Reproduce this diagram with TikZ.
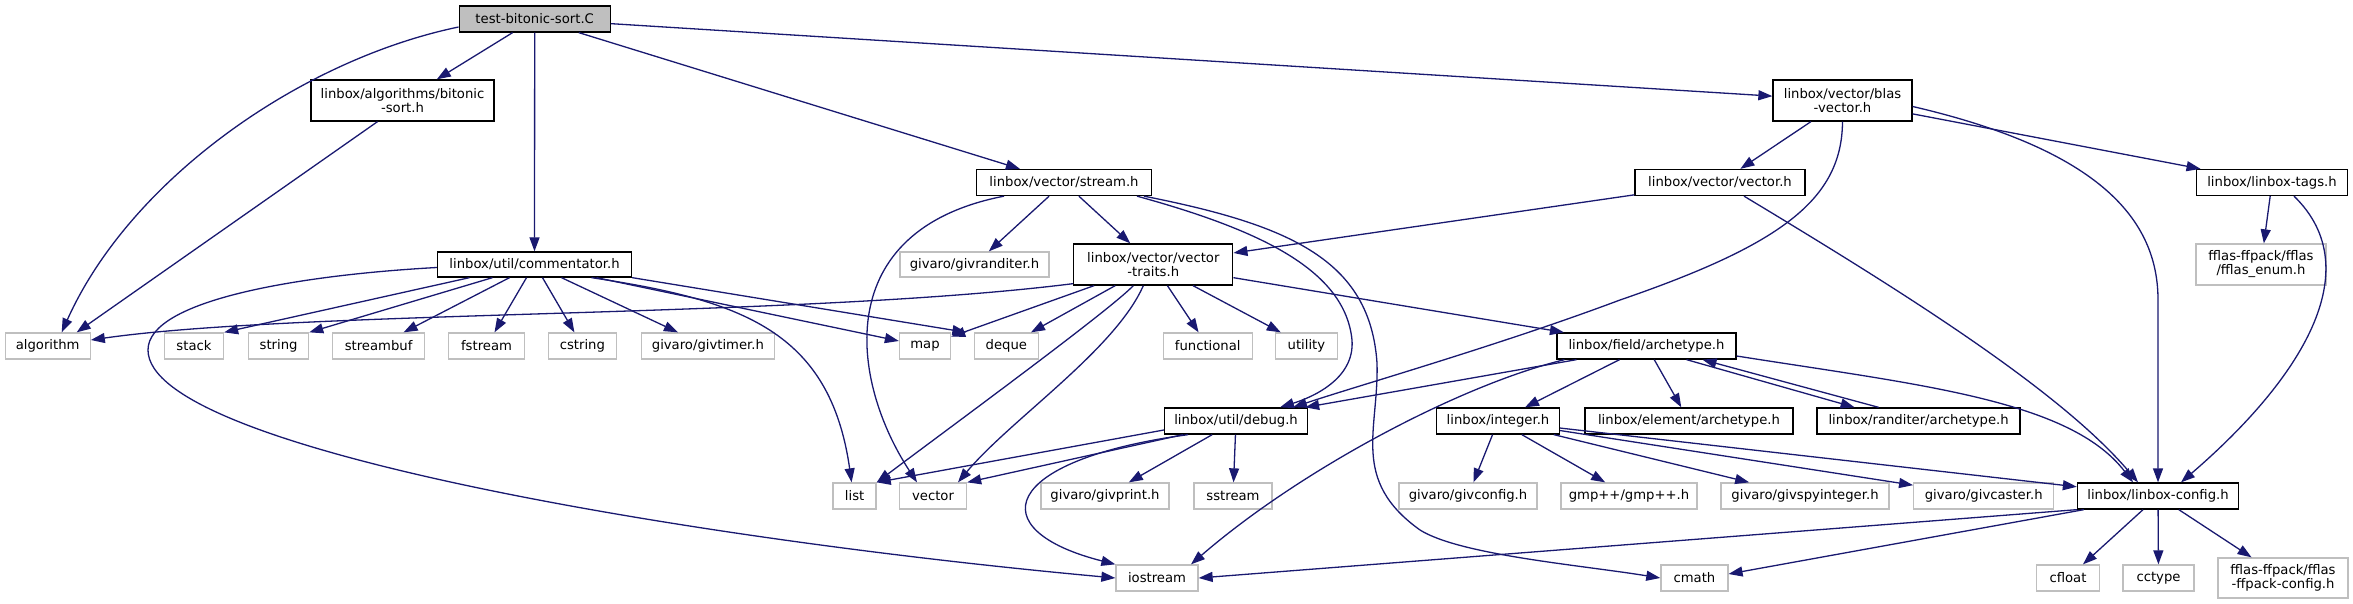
\documentclass[tikz,border=0pt]{standalone}
\usepackage{fontspec}
\setmainfont{DejaVu Sans}
\usetikzlibrary{arrows.meta, positioning}
\definecolor{dxBlue}{HTML}{191970}
\definecolor{dxGrey}{HTML}{BFBFBF}
\tikzset{
  hdr/.style  = {draw=black, fill=white, line width=1.3pt, inner sep=0pt,
                 minimum height=26pt, align=center,
                 font=\fontsize{13.2}{14}\selectfont},
  sys/.style  = {hdr, draw=dxGrey},
  src/.style  = {hdr, fill=dxGrey},
  dep/.style  = {-{Triangle[length=14pt,width=10pt]}, dxBlue, line width=1.3pt},
}

\begin{document}
\begin{tikzpicture}[x=1pt,y=-1pt, two/.style={minimum height=41pt}]
  \useasboundingbox (0,0) rectangle (2353,604);
  % row 0-2
  \node[src, minimum width=151pt] (root) at (534.7,19) {test-bitonic-sort.C};
  \node[hdr, two, minimum width=183pt] (bitonic) at (402.5,100.5) {linbox/algorithms/bitonic\\-sort.h};
  \node[hdr, two, minimum width=139pt] (blas) at (1842.5,100.5) {linbox/vector/blas\\-vector.h};
  \node[hdr, minimum width=175pt] (stream) at (1064,182.5) {linbox/vector/stream.h};
  \node[hdr, minimum width=170pt] (vectorh) at (1720,182.5) {linbox/vector/vector.h};
  \node[hdr, minimum width=151pt] (tags) at (2272,182.5) {linbox/linbox-tags.h};
  \node[hdr, minimum width=194pt, minimum height=25pt] (comm) at (534.5,264.5) {linbox/util/commentator.h};
  \node[sys, minimum width=149pt, minimum height=25pt] (givranditer) at (974.5,264.5) {givaro/givranditer.h};
  \node[hdr, two, minimum width=159pt] (vtraits) at (1153.3,264.5) {linbox/vector/vector\\-traits.h};
  \node[sys, two, minimum width=130pt] (fflasenum) at (2261,264.5) {fflas-ffpack/fflas\\/fflas\_enum.h};
  % row 3
  \node[sys, minimum width=85pt] (algorithm) at (47.7,346) {algorithm};
  \node[sys, minimum width=59pt] (stack) at (194,346) {stack};
  \node[sys, minimum width=60pt] (string) at (278.6,346) {string};
  \node[sys, minimum width=92pt] (streambuf) at (378.6,346) {streambuf};
  \node[sys, minimum width=76pt] (fstream) at (486.5,346) {fstream};
  \node[sys, minimum width=68pt] (cstring) at (582.4,346) {cstring};
  \node[sys, minimum width=133pt] (givtimer) at (707.9,346) {givaro/givtimer.h};
  \node[sys, minimum width=51pt] (map) at (925,346) {map};
  \node[sys, minimum width=64pt] (deque) at (1006.4,346) {deque};
  \node[sys, minimum width=89pt] (functional) at (1207.7,346) {functional};
  \node[sys, minimum width=62pt] (utility) at (1306.4,346) {utility};
  \node[hdr, minimum width=179pt] (fieldarch) at (1646.5,346) {linbox/field/archetype.h};
  % row 4
  \node[hdr, minimum width=143pt] (debug) at (1236,421) {linbox/util/debug.h};
  \node[hdr, minimum width=123pt] (integer) at (1498,421) {linbox/integer.h};
  \node[hdr, minimum width=208pt] (elemarch) at (1689,421) {linbox/element/archetype.h};
  \node[hdr, minimum width=203pt] (randarch) at (1918.6,421) {linbox/randiter/archetype.h};
  % row 5
  \node[sys, minimum width=43pt] (list) at (854.6,496) {list};
  \node[sys, minimum width=67pt] (vector) at (933,496) {vector};
  \node[sys, minimum width=128pt] (givprint) at (1105,496) {givaro/givprint.h};
  \node[sys, minimum width=78pt] (sstream) at (1233,496) {sstream};
  \node[sys, minimum width=138pt] (givconfig) at (1468,496) {givaro/givconfig.h};
  \node[sys, minimum width=136pt] (gmp) at (1629,496) {gmp++/gmp++.h};
  \node[sys, minimum width=168pt] (givspy) at (1805,496) {givaro/givspyinteger.h};
  \node[sys, minimum width=140pt] (givcaster) at (1983.7,496) {givaro/givcaster.h};
  \node[hdr, minimum width=161pt] (config) at (2158,496) {linbox/linbox-config.h};
  % row 6
  \node[sys, minimum width=82pt] (iostream) at (1157,578) {iostream};
  \node[sys, minimum width=67pt] (cmath) at (1694.4,578) {cmath};
  \node[sys, minimum width=63pt] (cfloat) at (2068,578) {cfloat};
  \node[sys, minimum width=71pt] (cctype) at (2158.5,578) {cctype};
  \node[sys, two, minimum width=130pt, minimum height=40pt] (ffconfig) at (2283,578) {fflas-ffpack/fflas\\-ffpack-config.h};

  % test-bitonic-sort.C
  \draw[dep] ([yshift=-8pt]root.west) .. controls (300,60) and (130,180) .. ([xshift=14pt]algorithm.north);
  \draw[dep] (root) -- (bitonic);
  \draw[dep] (root) -- (comm);
  \draw[dep] (root) -- (stream);
  \draw[dep] (root) -- (blas);
  \draw[dep] ([xshift=-25pt]bitonic.south) -- ([xshift=29pt]algorithm.north);

  % commentator
  \draw[dep] ([yshift=-3pt]comm.west) .. controls (300,275) and (148,300) .. (148,350)
             .. controls (148,450) and (700,540) .. (iostream.west);
  \draw[dep] ([xshift=-65pt]comm.south) -- (stack.north east);
  \draw[dep] ([xshift=-42pt]comm.south) -- (string.north east);
  \draw[dep] ([xshift=-25pt]comm.south) -- ([xshift=25pt]streambuf.north);
  \draw[dep] ([xshift=-8pt]comm.south) -- ([xshift=8pt]fstream.north);
  \draw[dep] ([xshift=8pt]comm.south) -- ([xshift=-8pt]cstring.north);
  \draw[dep] ([xshift=27pt]comm.south) -- ([xshift=-30pt]givtimer.north);
  \draw[dep] ([xshift=62pt]comm.south) -- ([yshift=5pt]map.west);
  \draw[dep] (comm.south east) -- ([xshift=-40pt]deque.north);
  \draw[dep] ([xshift=57pt]comm.south) .. controls (740,300) and (830,330) .. ([xshift=-3pt]list.north);

  % stream
  \draw[dep] ([xshift=-60pt]stream.south) .. controls (830,230) and (850,380) .. ([xshift=-16pt]vector.north);
  \draw[dep] (stream) -- (givranditer);
  \draw[dep] (stream) -- (vtraits);
  \draw[dep] ([xshift=73pt]stream.south) .. controls (1260,230) and (1345,270) .. (1352,340)
             .. controls (1355,380) and (1310,398) .. ([xshift=44pt]debug.north);
  \draw[dep] ([xshift=80pt]stream.south) .. controls (1290,225) and (1370,260) .. (1377,363)
             .. controls (1379,430) and (1350,480) .. (1420,530)
             .. controls (1460,555) and (1580,565) .. (cmath.west);

  % vector-traits
  \draw[dep] ([yshift=2pt]vtraits.south west) .. controls (800,318) and (300,310) .. ([yshift=6pt]algorithm.east);
  \draw[dep] (vtraits) -- (map);
  \draw[dep] (vtraits) -- (deque);
  \draw[dep] ([xshift=-20pt]vtraits.south) .. controls (1110,310) and (960,420) .. (list.north east);
  \draw[dep] ([xshift=-10pt]vtraits.south) .. controls (1115,350) and (1010,420) .. ([xshift=25pt]vector.north);
  \draw[dep] (vtraits) -- (functional);
  \draw[dep] (vtraits) -- (utility);
  \draw[dep] (vtraits) -- (fieldarch);

  % blas-vector, vector, tags
  \draw[dep] (blas) -- (vectorh);
  \draw[dep] (blas.south) .. controls (1842,200) and (1780,245) .. (1620,300)
             .. controls (1500,345) and (1360,385) .. ([xshift=57pt]debug.north);
  \draw[dep] ([yshift=-6pt]blas.east) .. controls (2100,150) and (2158,220) .. (2158,300) -- (config.north);
  \draw[dep] (blas) -- (tags);
  \draw[dep] (vectorh) -- (vtraits);
  \draw[dep] ([xshift=24pt]vectorh.south) .. controls (1900,290) and (2060,390) .. ([xshift=-20pt]config.north);
  \draw[dep] (tags) -- (fflasenum);
  \draw[dep] ([xshift=22pt]tags.south) .. controls (2370,270) and (2300,380) .. ([xshift=23pt]config.north);

  % field archetype
  \draw[dep] ([xshift=-70pt]fieldarch.south) -- ([xshift=-3pt]debug.north east);
  \draw[dep] ([xshift=-82pt]fieldarch.south) .. controls (1460,385) and (1300,470) .. ([xshift=34pt]iostream.north);
  \draw[dep] (fieldarch) -- (integer);
  \draw[dep] (fieldarch) -- (elemarch);
  \draw[dep] ([xshift=40pt]fieldarch.south) -- ([xshift=-64pt]randarch.north);
  \draw[dep] ([xshift=-40pt]randarch.north) -- ([xshift=56pt]fieldarch.south);
  \draw[dep] ([yshift=-10pt]fieldarch.east) .. controls (1920,385) and (2070,400) .. ([xshift=-25pt]config.north);

  % integer
  \draw[dep] (integer) -- (givconfig);
  \draw[dep] (integer) -- (gmp);
  \draw[dep] (integer) -- (givspy);
  \draw[dep] (integer) -- (givcaster);
  \draw[dep] (integer) -- (config);

  % debug
  \draw[dep] ([yshift=-9pt]debug.west) -- (list.north east);
  \draw[dep] ([xshift=-53pt]debug.south) -- (vector.north east);
  \draw[dep] ([xshift=-48pt]debug.south) .. controls (1000,460) and (980,530) .. (iostream.north west);
  \draw[dep] (debug) -- (givprint);
  \draw[dep] (debug) -- (sstream);

  % linbox-config
  \draw[dep] (config.south west) -- (iostream.east);
  \draw[dep] ([xshift=7pt]config.south west) -- ([yshift=4pt]cmath.east);
  \draw[dep] (config) -- (cfloat);
  \draw[dep] (config) -- (cctype);
  \draw[dep] (config) -- (ffconfig);
\end{tikzpicture}
\end{document}
